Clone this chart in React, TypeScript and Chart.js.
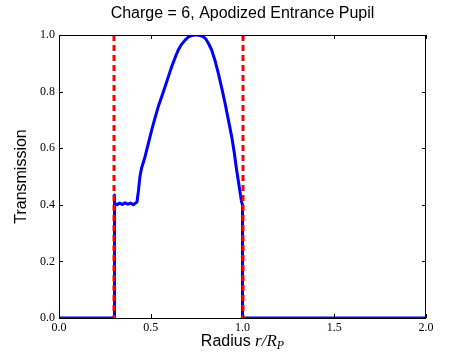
import React, { useEffect, useRef } from "react";
import { Chart, registerables } from "chart.js";

Chart.register(...registerables);

const radius = [0, 0.3, 0.3, 0.305, 0.315, 0.33, 0.345, 0.36, 0.375, 0.39, 0.405, 0.415, 0.425, 0.433, 0.441, 0.45, 0.469, 0.487, 0.505, 0.523, 0.541, 0.56, 0.578, 0.596, 0.614, 0.632, 0.65, 0.668, 0.687, 0.705, 0.723, 0.74, 0.755, 0.77, 0.785, 0.8, 0.815, 0.832, 0.85, 0.868, 0.886, 0.905, 0.923, 0.941, 0.955, 0.968, 0.982, 0.995, 1.0, 1.0, 2.0];
const transmission = [0, 0, 0.435, 0.405, 0.4, 0.406, 0.401, 0.407, 0.402, 0.406, 0.4, 0.405, 0.41, 0.45, 0.499, 0.53, 0.57, 0.617, 0.664, 0.706, 0.747, 0.783, 0.817, 0.853, 0.888, 0.919, 0.947, 0.967, 0.982, 0.993, 0.998, 1.0, 1.0, 0.998, 0.994, 0.986, 0.97, 0.947, 0.91, 0.865, 0.815, 0.759, 0.7, 0.641, 0.585, 0.523, 0.465, 0.41, 0.4, 0, 0];
const stopRadii = [0.3, 1.0];
const xTicks = [0, 0.5, 1.0, 1.5, 2.0];
const yTicks = [0, 0.2, 0.4, 0.6, 0.8, 1.0];
const titleText = "Charge = 6, Apodized Entrance Pupil";
const yLabel = "Transmission";
const xLabelPlain = "Radius ";

export default function App() {
  const ref = useRef<HTMLCanvasElement | null>(null);
  useEffect(() => {
    document.body.style.margin = "0";
    const canvas = ref.current!;
    const decor = {
      id: "decor",
      afterDatasetsDraw(chart: any) {
        const ctx = chart.ctx;
        const a = chart.chartArea;
        const xs = chart.scales.x;
        const ys = chart.scales.y;
        ctx.save();
        // stop lines
        ctx.strokeStyle = "#ff0000";
        ctx.lineWidth = 3;
        ctx.setLineDash([6, 4]);
        for (const r of stopRadii) {
          const px = Math.round(xs.getPixelForValue(r));
          ctx.beginPath();
          ctx.moveTo(px, a.top);
          ctx.lineTo(px, a.bottom);
          ctx.stroke();
        }
        ctx.setLineDash([]);
        // frame
        ctx.strokeStyle = "#000";
        ctx.lineWidth = 1;
        ctx.strokeRect(a.left + 0.5, a.top + 0.5, a.right - a.left - 1, a.bottom - a.top);
        // ticks
        ctx.beginPath();
        for (const t of xTicks) {
          const px = Math.round(xs.getPixelForValue(t)) + 0.5;
          ctx.moveTo(px, a.bottom);
          ctx.lineTo(px, a.bottom - 4);
          ctx.moveTo(px, a.top);
          ctx.lineTo(px, a.top + 4);
        }
        for (const t of yTicks) {
          const py = Math.round(ys.getPixelForValue(t)) + 0.5;
          ctx.moveTo(a.left, py);
          ctx.lineTo(a.left + 4, py);
          ctx.moveTo(a.right, py);
          ctx.lineTo(a.right - 4, py);
        }
        ctx.stroke();
        // titles
        ctx.fillStyle = "#000";
        ctx.textAlign = "center";
        ctx.textBaseline = "middle";
        ctx.font = "16px 'Liberation Sans', Arial, sans-serif";
        ctx.fillText(titleText, (a.left + a.right) / 2, 14);
        ctx.save();
        ctx.translate(22, (a.top + a.bottom) / 2);
        ctx.rotate(-Math.PI / 2);
        ctx.fillText(yLabel, 0, 0);
        ctx.restore();
        // x label with math
        const sans = "16px 'Liberation Sans', Arial, sans-serif";
        const ital = "italic 17px 'Liberation Serif', 'DejaVu Serif', serif";
        const sub = "italic 12px 'Liberation Serif', 'DejaVu Serif', serif";
        ctx.textAlign = "left";
        ctx.textBaseline = "alphabetic";
        ctx.font = sans;
        const w1 = ctx.measureText(xLabelPlain).width;
        ctx.font = ital;
        const w2 = ctx.measureText("r/R").width;
        ctx.font = sub;
        const w3 = ctx.measureText("P").width;
        let x0 = (a.left + a.right) / 2 - (w1 + w2 + w3) / 2;
        const base = 346;
        ctx.font = sans;
        ctx.fillText(xLabelPlain, x0, base);
        x0 += w1;
        ctx.font = ital;
        ctx.fillText("r/R", x0, base);
        x0 += w2;
        ctx.font = sub;
        ctx.fillText("P", x0, base + 3);
        ctx.restore();
      },
    };
    const chart = new Chart(canvas, {
      type: "line",
      data: {
        datasets: [
          {
            data: radius.map((r, i) => ({ x: r, y: transmission[i] })),
            borderColor: "#0000ff",
            borderWidth: 3,
            pointRadius: 0,
            tension: 0,
            fill: false,
            borderJoinStyle: "round",
          },
        ],
      },
      options: {
        animation: false,
        responsive: false,
        maintainAspectRatio: false,
        layout: { padding: { left: 0, right: 46, top: 35, bottom: 0 } },
        plugins: { legend: { display: false }, tooltip: { enabled: false }, title: { display: false } },
        scales: {
          x: {
            type: "linear",
            min: 0,
            max: 2,
            afterBuildTicks: (s: any) => {
              s.ticks = xTicks.map((v) => ({ value: v }));
            },
            afterFit: (s: any) => {
              s.height = 36;
            },
            grid: { display: false, drawTicks: false },
            border: { display: false },
            ticks: {
              padding: 3,
              color: "#000",
              font: { family: "'Liberation Serif', 'DejaVu Serif', serif", size: 12 },
              callback: (v: any) => Number(v).toFixed(1),
              maxRotation: 0,
            },
          },
          y: {
            type: "linear",
            min: 0,
            max: 1,
            afterBuildTicks: (s: any) => {
              s.ticks = yTicks.map((v) => ({ value: v }));
            },
            afterFit: (s: any) => {
              s.width = 59;
            },
            grid: { display: false, drawTicks: false },
            border: { display: false },
            ticks: {
              padding: 4,
              color: "#000",
              font: { family: "'Liberation Serif', 'DejaVu Serif', serif", size: 12 },
              callback: (v: any) => Number(v).toFixed(1),
            },
          },
        },
      },
      plugins: [decor],
    });
    return () => chart.destroy();
  }, []);
  return (
    <div style={{ width: 472, height: 354, background: "#fff" }}>
      <canvas ref={ref} width={472} height={354} style={{ display: "block" }} />
    </div>
  );
}
